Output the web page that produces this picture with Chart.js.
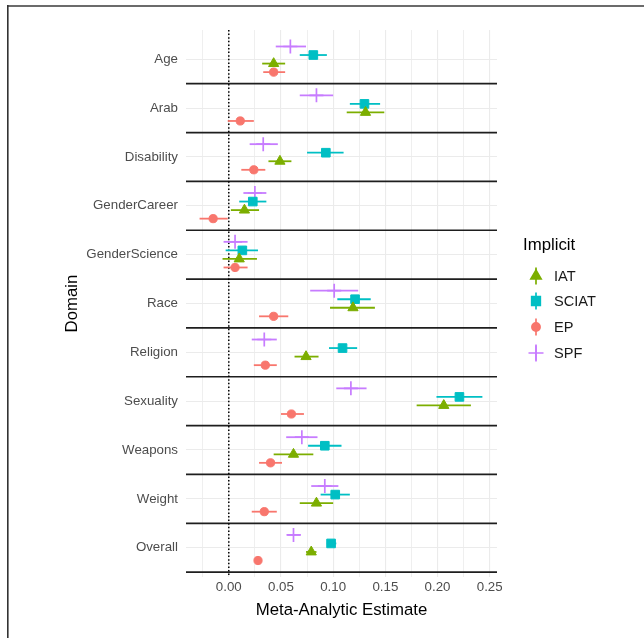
<!DOCTYPE html>
<html><head><meta charset="utf-8">
<script src="https://cdn.jsdelivr.net/npm/chart.js@4.4.0/dist/chart.umd.min.js"></script>
<style>html,body{margin:0;padding:0;background:#fff;} canvas{display:block;}</style>
</head><body>
<canvas id="c" width="644" height="638"></canvas>
<script>
// ---- data ----
const categories = ['Age','Arab','Disability','GenderCareer','GenderScience','Race','Religion','Sexuality','Weapons','Weight','Overall'];

const iatEst = [0.043, 0.131, 0.049, 0.015, 0.010, 0.119, 0.074, 0.206, 0.062, 0.084, 0.079];
const iatLo  = [0.032, 0.113, 0.038, 0.002, -0.006, 0.097, 0.063, 0.180, 0.043, 0.068, 0.074];
const iatHi  = [0.054, 0.149, 0.060, 0.029, 0.027, 0.140, 0.086, 0.232, 0.081, 0.100, 0.084];

const sciatEst = [0.081, 0.130, 0.093, 0.023, 0.013, 0.121, 0.109, 0.221, 0.092, 0.102, 0.098];
const sciatLo  = [0.068, 0.116, 0.075, 0.010, -0.003, 0.104, 0.096, 0.199, 0.076, 0.088, 0.094];
const sciatHi  = [0.094, 0.145, 0.110, 0.036, 0.028, 0.136, 0.123, 0.243, 0.108, 0.116, 0.103];

const epEst = [0.043, 0.011, 0.024, -0.015, 0.006, 0.043, 0.035, 0.060, 0.040, 0.034, 0.028];
const epLo  = [0.033, -0.001, 0.012, -0.028, -0.005, 0.029, 0.024, 0.050, 0.029, 0.022, 0.026];
const epHi  = [0.054, 0.024, 0.035, -0.001, 0.018, 0.057, 0.046, 0.072, 0.051, 0.046, 0.031];

const spfEst = [0.059, 0.084, 0.033, 0.025, 0.006, 0.101, 0.034, 0.117, 0.070, 0.092, 0.062];
const spfLo  = [0.045, 0.068, 0.020, 0.014, -0.005, 0.078, 0.022, 0.103, 0.055, 0.079, 0.056];
const spfHi  = [0.074, 0.100, 0.047, 0.036, 0.018, 0.124, 0.046, 0.132, 0.085, 0.105, 0.069];

const seriesNames = ['IAT', 'SCIAT', 'EP', 'SPF'];
const xMajorTicks = [0, 0.05, 0.10, 0.15, 0.20, 0.25];
const xTickLabels = ['0.00', '0.05', '0.10', '0.15', '0.20', '0.25'];
const xMinorTicks = [-0.025, 0.025, 0.075, 0.125, 0.175, 0.225];

// ---- styling ----
const FONT = '"Liberation Sans", Arial, Helvetica, sans-serif';
const series = [
  {name: seriesNames[0], est: iatEst, lo: iatLo, hi: iatHi, color: '#7CAE00', style: 'triangle', r: 5.9, bw: 1, dodge: 1},
  {name: seriesNames[1], est: sciatEst, lo: sciatLo, hi: sciatHi, color: '#00BFC4', style: 'rect', r: 6.1, bw: 1, dodge: 2},
  {name: seriesNames[2], est: epEst, lo: epLo, hi: epHi, color: '#F8766D', style: 'circle', r: 4.1, bw: 1, dodge: 0},
  {name: seriesNames[3], est: spfEst, lo: spfLo, hi: spfHi, color: '#C77CFF', style: 'cross', r: 7, bw: 1.7, dodge: 3}
];
const dodgeStep = 0.175;

const datasets = series.map(s => {
  const off = (1.5 - s.dodge) * dodgeStep;
  return {
    label: s.name,
    data: s.est.map((v, i) => ({x: v, y: i + 1 + off})),
    errLo: s.lo, errHi: s.hi,
    pointStyle: s.style,
    pointRadius: s.r,
    pointHoverRadius: s.r,
    backgroundColor: s.color,
    borderColor: s.color,
    borderWidth: s.bw,
    showLine: false
  };
});

const decorPlugin = {
  id: 'decor',
  beforeDatasetsDraw(chart) {
    const {ctx, chartArea: ca, scales: {x, y}} = chart;
    ctx.save();
    ctx.beginPath();
    ctx.rect(ca.left, ca.top - 2, ca.right - ca.left, ca.bottom - ca.top + 4);
    ctx.clip();
    // separators
    ctx.strokeStyle = '#1e1e1e';
    ctx.lineWidth = 1.7;
    for (let k = 1; k <= categories.length; k++) {
      const py = y.getPixelForValue(k + 0.5);
      ctx.beginPath(); ctx.moveTo(ca.left, py); ctx.lineTo(ca.right, py); ctx.stroke();
    }
    // zero dotted line
    const px0 = x.getPixelForValue(0);
    ctx.setLineDash([1.5, 2.1]);
    ctx.lineWidth = 1.5;
    ctx.strokeStyle = '#000';
    ctx.beginPath(); ctx.moveTo(px0, ca.top); ctx.lineTo(px0, ca.bottom); ctx.stroke();
    ctx.setLineDash([]);
    // error bars
    chart.data.datasets.forEach(ds => {
      ctx.strokeStyle = ds.borderColor;
      ctx.lineWidth = 1.8;
      ds.data.forEach((pt, i) => {
        const py = y.getPixelForValue(pt.y);
        ctx.beginPath();
        ctx.moveTo(x.getPixelForValue(ds.errLo[i]), py);
        ctx.lineTo(x.getPixelForValue(ds.errHi[i]), py);
        ctx.stroke();
      });
    });
    ctx.restore();
  },
  afterDraw(chart) {
    const ctx = chart.ctx;
    ctx.save();
    // legend
    ctx.fillStyle = '#000';
    ctx.font = '16.8px ' + FONT;
    ctx.textAlign = 'left';
    ctx.textBaseline = 'middle';
    ctx.fillText('Implicit', 523, 245);
    ctx.font = '14.6px ' + FONT;
    const ly = [276, 301, 327, 353];
    series.forEach((s, i) => {
      const cx = 536, cy = ly[i];
      ctx.strokeStyle = s.color; ctx.fillStyle = s.color; ctx.lineWidth = 1.7;
      ctx.beginPath(); ctx.moveTo(cx, cy - 8.5); ctx.lineTo(cx, cy + 8.5); ctx.stroke();
      Chart.helpers.drawPoint(ctx, {pointStyle: s.style, radius: s.style === 'cross' ? 7.5 : s.r, borderWidth: s.bw}, cx, cy);
      if (s.style !== 'cross') ctx.fill();
      ctx.fillStyle = '#1a1a1a';
      ctx.fillText(s.name, 554, cy + 0.5);
    });
    // frame
    ctx.fillStyle = '#6b6b6b';
    ctx.fillRect(7, 5, 637, 2);
    ctx.fillStyle = '#333';
    ctx.fillRect(7, 5, 1.6, 633);
    ctx.restore();
  }
};

new Chart(document.getElementById('c'), {
  type: 'scatter',
  data: {datasets},
  options: {
    responsive: false,
    animation: false,
    events: [],
    layout: {padding: {left: 0, right: 147, top: 30, bottom: 0}},
    plugins: {legend: {display: false}, tooltip: {enabled: false}},
    scales: {
      x: {
        type: 'linear', min: -0.041, max: 0.257,
        afterBuildTicks(scale) {
          scale.ticks = xMajorTicks.concat(xMinorTicks).sort((a, b) => a - b).map(v => ({value: v}));
        },
        afterFit(scale) { scale.height = 61; },
        ticks: {
          autoSkip: false, maxRotation: 0, padding: 2,
          color: '#4d4d4d', font: {family: FONT, size: 13.3},
          callback(v) {
            const k = xMajorTicks.findIndex(m => Math.abs(m - v) < 1e-9);
            return k >= 0 ? xTickLabels[k] : '';
          }
        },
        grid: {
          color: '#ebebeb', drawTicks: false,
          lineWidth: c => (xMajorTicks.some(m => Math.abs(m - c.tick.value) < 1e-9) ? 1.1 : 0.8)
        },
        border: {display: false},
        title: {display: true, text: 'Meta-Analytic Estimate', color: '#000', font: {family: FONT, size: 16.8}, padding: {top: 0, bottom: 18}}
      },
      y: {
        type: 'linear', min: 0.4, max: 11.6, reverse: true,
        afterBuildTicks(scale) {
          scale.ticks = categories.map((c, i) => ({value: i + 1}));
        },
        afterFit(scale) { scale.width = 186; },
        ticks: {
          autoSkip: false, padding: 8,
          color: '#4d4d4d', font: {family: FONT, size: 13.3},
          callback(v) { return categories[Math.round(v) - 1]; }
        },
        grid: {color: '#ebebeb', lineWidth: 1.1, drawTicks: false},
        border: {display: false},
        title: {display: true, text: 'Domain', color: '#000', font: {family: FONT, size: 16.8}, padding: {top: 62, bottom: 0}}
      }
    }
  },
  plugins: [decorPlugin]
});
</script>
</body></html>
